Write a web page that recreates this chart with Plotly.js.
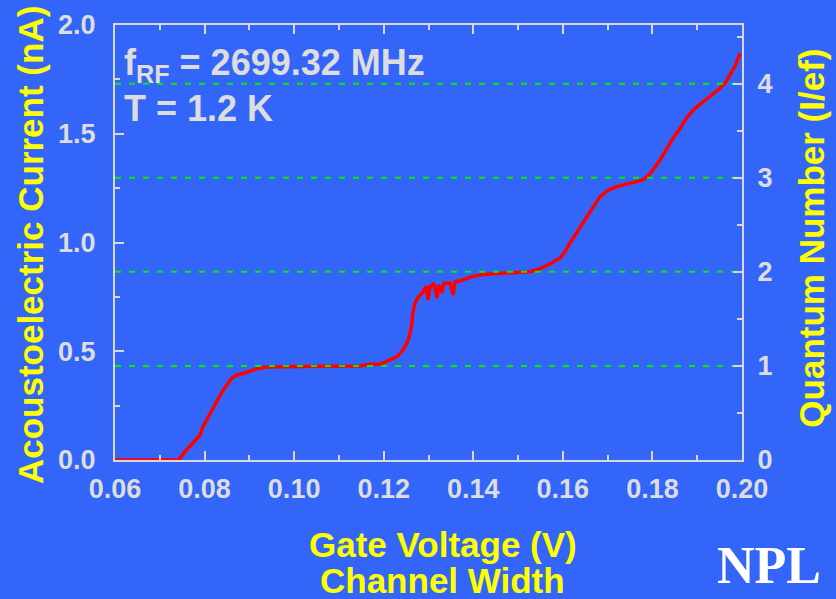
<!DOCTYPE html>
<html>
<head>
<meta charset="utf-8">
<script src="https://cdn.plot.ly/plotly-3.0.1.min.js"></script>
<style>html,body{margin:0;padding:0;background:#3366f8;}</style>
</head>
<body>
<div id="chart" style="width:836px;height:599px;"></div>
<script>
// Gate voltage (V)
var gateVoltage = [0.0600, 0.0741, 0.0745, 0.0756, 0.0774, 0.0790, 0.0796, 0.0808, 0.0819, 0.0828,
  0.0839, 0.0850, 0.0861, 0.0872, 0.0890, 0.0913, 0.0939, 0.1013, 0.1080, 0.1147,
  0.1165, 0.1192, 0.1214, 0.1230, 0.1243, 0.1252, 0.1259, 0.1263, 0.1265, 0.1270,
  0.1277, 0.1288, 0.1295, 0.1299, 0.1303, 0.1312, 0.1319, 0.1323, 0.1330, 0.1334,
  0.1348, 0.1355, 0.1359, 0.1370, 0.1393, 0.1415, 0.1437, 0.1482, 0.1504, 0.1527,
  0.1549, 0.1571, 0.1594, 0.1605, 0.1616, 0.1627, 0.1638, 0.1649, 0.1661, 0.1672,
  0.1683, 0.1699, 0.1716, 0.1734, 0.1757, 0.1777, 0.1790, 0.1801, 0.1817, 0.1833,
  0.1846, 0.1862, 0.1877, 0.1895, 0.1913, 0.1933, 0.1951, 0.1962, 0.1973, 0.1984, 0.1996];
// Acoustoelectric current (nA)
var current = [0.000, 0.000, 0.008, 0.038, 0.078, 0.115, 0.152, 0.198, 0.244, 0.276,
  0.313, 0.345, 0.377, 0.391, 0.400, 0.418, 0.428, 0.430, 0.430, 0.432,
  0.439, 0.441, 0.460, 0.475, 0.506, 0.538, 0.584, 0.630, 0.676, 0.722,
  0.749, 0.772, 0.800, 0.736, 0.795, 0.812, 0.745, 0.805, 0.768, 0.812,
  0.814, 0.759, 0.820, 0.823, 0.841, 0.851, 0.855, 0.860, 0.861, 0.866,
  0.880, 0.901, 0.929, 0.958, 0.998, 1.034, 1.067, 1.103, 1.142, 1.182,
  1.211, 1.237, 1.254, 1.264, 1.275, 1.287, 1.306, 1.333, 1.379, 1.433,
  1.479, 1.525, 1.576, 1.617, 1.647, 1.678, 1.709, 1.732, 1.770, 1.808, 1.870];
// Quantised levels (I/ef) and f_RF
var quantumLevels = [1, 2, 3, 4];
var levelSpan = [0.06, 0.20];
var fRF_MHz = 2699.32;
var efNA = 1.602176634e-19 * fRF_MHz * 1e6 * 1e9; // nA per quantum

var lx = [], ly = [];
quantumLevels.forEach(function(n){ lx.push(levelSpan[0], levelSpan[1], null); ly.push(n, n, null); });

var tickColor = '#dddddd';
var fam = 'Liberation Sans, Arial, sans-serif';
var tickFont = {family: fam, size: 27, color: tickColor, weight: 'bold'};

var traces = [
  {x: lx, y: ly, yaxis: 'y2', mode: 'lines', line: {color: '#00f000', width: 2, dash: '6px,8px'}, hoverinfo: 'skip', showlegend: false},
  {x: gateVoltage, y: current, mode: 'lines', line: {color: '#ff0000', width: 3.5}, showlegend: false}
];

var axisCommon = {
  showgrid: false, zeroline: false, showline: true, linecolor: '#d8d8d8', linewidth: 2,
  ticks: 'inside', ticklen: 9, tickwidth: 2, tickcolor: '#d8d8d8', tickfont: tickFont
};

var layout = {
  width: 836, height: 599,
  paper_bgcolor: '#3366f8', plot_bgcolor: '#3366f8',
  margin: {l: 115, r: 94, t: 25, b: 139},
  showlegend: false,
  xaxis: Object.assign({}, axisCommon, {
    range: [0.06, 0.20], tick0: 0.06, dtick: 0.02, tickformat: '.2f', mirror: 'ticks',
    ticklabelstandoff: 4,
    minor: {dtick: 0.01, ticks: 'inside', ticklen: 5, tickwidth: 2, tickcolor: '#d8d8d8'}
  }),
  yaxis: Object.assign({}, axisCommon, {
    range: [0, 2], dtick: 0.5, tickformat: '.1f', ticklabelstandoff: 12,
    minor: {dtick: 0.25, ticks: 'inside', ticklen: 5, tickwidth: 2, tickcolor: '#d8d8d8'}
  }),
  yaxis2: Object.assign({}, axisCommon, {
    overlaying: 'y', side: 'right', range: [0, 2 / efNA], dtick: 1, tickformat: 'd',
    ticklabelstandoff: 8,
    minor: {dtick: 0.5, ticks: 'inside', ticklen: 5, tickwidth: 2, tickcolor: '#d8d8d8'}
  }),
  annotations: [
    {text: 'Acoustoelectric Current (nA)', xref: 'paper', yref: 'paper', x: -0.1356, y: 0.494,
     textangle: -90, showarrow: false, xanchor: 'center', yanchor: 'middle',
     font: {family: fam, size: 35, color: '#ffff00', weight: 'bold'}},
    {text: 'Quantum Number (I/ef)', xref: 'paper', yref: 'paper', x: 1.1116, y: 0.511,
     textangle: -90, showarrow: false, xanchor: 'center', yanchor: 'middle',
     font: {family: fam, size: 35, color: '#ffff00', weight: 'bold'}},
    {text: 'Gate Voltage (V)', xref: 'paper', yref: 'paper', x: 0.523, y: -0.1954,
     showarrow: false, xanchor: 'center', yanchor: 'middle',
     font: {family: fam, size: 35, color: '#ffff00', weight: 'bold'}},
    {text: 'Channel Width', xref: 'paper', yref: 'paper', x: 0.523, y: -0.2759,
     showarrow: false, xanchor: 'center', yanchor: 'middle',
     font: {family: fam, size: 35, color: '#ffff00', weight: 'bold'}},
    {text: 'f<sub>RF</sub> = ' + fRF_MHz.toFixed(2) + ' MHz', xref: 'paper', yref: 'paper', x: 0.0112, y: 0.908,
     showarrow: false, xanchor: 'left', yanchor: 'middle',
     font: {family: fam, size: 36, color: '#dddddd', weight: 'bold'}},
    {text: 'T = 1.2 K', xref: 'paper', yref: 'paper', x: 0.0112, y: 0.809,
     showarrow: false, xanchor: 'left', yanchor: 'middle',
     font: {family: fam, size: 36, color: '#dddddd', weight: 'bold'}},
    {text: 'NPL', xref: 'paper', yref: 'paper', x: 0.957, y: -0.242,
     showarrow: false, xanchor: 'left', yanchor: 'middle',
     font: {family: 'Liberation Serif, Times New Roman, serif', size: 52, color: '#ffffff', weight: 'bold'}}
  ]
};

Plotly.newPlot('chart', traces, layout, {displayModeBar: false, staticPlot: true});
</script>
</body>
</html>
